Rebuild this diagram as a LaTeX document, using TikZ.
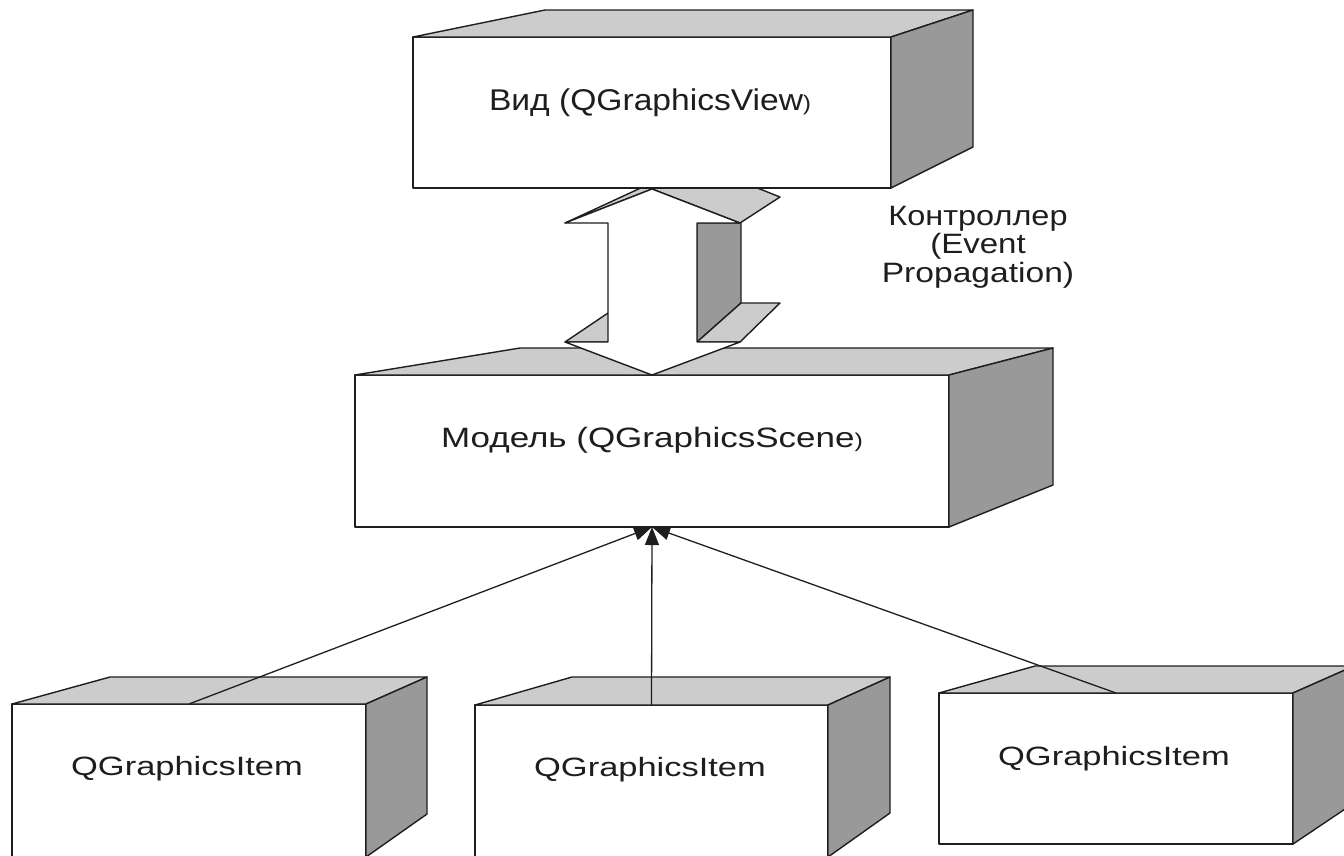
\documentclass[tikz,border=0pt]{standalone}
\usepackage{fontspec}
\setmainfont{Liberation Sans}
\usetikzlibrary{arrows.meta}
\definecolor{topgray}{HTML}{CCCCCC}
\definecolor{sidegray}{HTML}{999999}
\definecolor{ink}{HTML}{1E1E1E}
\begin{document}
\begin{tikzpicture}[x=1pt,y=-1pt,line join=round,
  face/.style={draw=ink,line width=1.4pt},
  front/.style={face,fill=white,rectangle,inner sep=0pt,outer sep=0pt},
  topf/.style={face,fill=topgray},
  sidef/.style={face,fill=sidegray},
  lbl/.style={inner sep=0pt,outer sep=0pt,text=ink},
  link/.style={draw=ink,line width=1.3pt,-{Triangle[length=18pt,width=14pt]}}]
\useasboundingbox (0,0) rectangle (1344,855);
\clip (0,0) rectangle (1344,855);
% Model box
\node[front,minimum width=594pt,minimum height=152pt] (model) at (652,451) {};
\filldraw[topf] (355,375) -- (520,348) -- (1053,348) -- (949,375) -- cycle;
\filldraw[sidef] (949,375) -- (1053,348) -- (1053,485) -- (949,527) -- cycle;
\node[lbl,anchor=base] (tmodel) at (652,447) {\scalebox{1.25}[1]{\fontsize{28}{28}\selectfont Модель (QGraphicsScene{\fontsize{20}{20}\selectfont )}}};
% 3D double arrow (controller)
\filldraw[topf] (565,342) -- (608,342) -- (651,313) -- (608,313) -- cycle;
\filldraw[topf] (565,223) -- (652,189) -- (645,186) -- cycle;
\filldraw[sidef] (697,223) -- (741,223) -- (741,303) -- (697,342) -- cycle;
\filldraw[topf] (697,342) -- (741,303) -- (780,303) -- (740,342) -- cycle;
\filldraw[topf] (652,189) -- (692,162) -- (780,197) -- (740,223) -- cycle;
\filldraw[face,fill=white] (652,189) -- (740,223) -- (697,223) -- (697,342) -- (740,342) -- (652,375) -- (565,342) -- (608,342) -- (608,223) -- (565,223) -- cycle;
% View box
\node[front,minimum width=478pt,minimum height=151pt] (view) at (652,112.5) {};
\filldraw[topf] (413,37) -- (545,10) -- (973,10) -- (891,37) -- cycle;
\filldraw[sidef] (891,37) -- (973,10) -- (973,147) -- (891,188) -- cycle;
\node[lbl,anchor=base] (tview) at (650,110) {\scalebox{1.12}[1]{\fontsize{30}{30}\selectfont Вид (QGraphicsView{\fontsize{21}{21}\selectfont )}}};
% Controller label
\node[lbl,anchor=north,align=center,font=\fontsize{28}{28.5}\selectfont] (ctrl) at (978,206) {\scalebox{1.16}[1]{Контроллер}\\\scalebox{1.18}[1]{(Event}\\\scalebox{1.2}[1]{Propagation)}};
% Item boxes
\node[front,minimum width=354pt,minimum height=153pt] (item1) at (189,780.5) {};
\filldraw[topf] (12,704) -- (110,677) -- (427,677) -- (366,704) -- cycle;
\filldraw[sidef] (366,704) -- (427,677) -- (427,814) -- (366,857) -- cycle;
\node[lbl,anchor=base] (t1) at (187,775) {\scalebox{1.3}[1]{\fontsize{26.5}{26.5}\selectfont QGraphicsItem}};
\node[front,minimum width=353pt,minimum height=152pt] (item2) at (651.5,781) {};
\filldraw[topf] (475,705) -- (572,677) -- (890,677) -- (828,705) -- cycle;
\filldraw[sidef] (828,705) -- (890,677) -- (890,813) -- (828,857) -- cycle;
\node[lbl,anchor=base] (t2) at (650,776) {\scalebox{1.3}[1]{\fontsize{26.5}{26.5}\selectfont QGraphicsItem}};
\node[front,minimum width=354pt,minimum height=151pt] (item3) at (1116,768.5) {};
\filldraw[topf] (939,693) -- (1035,666) -- (1354,666) -- (1293,693) -- cycle;
\filldraw[sidef] (1293,693) -- (1354,666) -- (1354,803) -- (1293,844) -- cycle;
\node[lbl,anchor=base] (t3) at (1114,765) {\scalebox{1.3}[1]{\fontsize{26.5}{26.5}\selectfont QGraphicsItem}};
% Connectors
\draw[link] (item1.north) -- (model.south);
\draw[link] (item2.north) -- (model.south);
\draw[link] (item3.north) -- (model.south);
\end{tikzpicture}
\end{document}
